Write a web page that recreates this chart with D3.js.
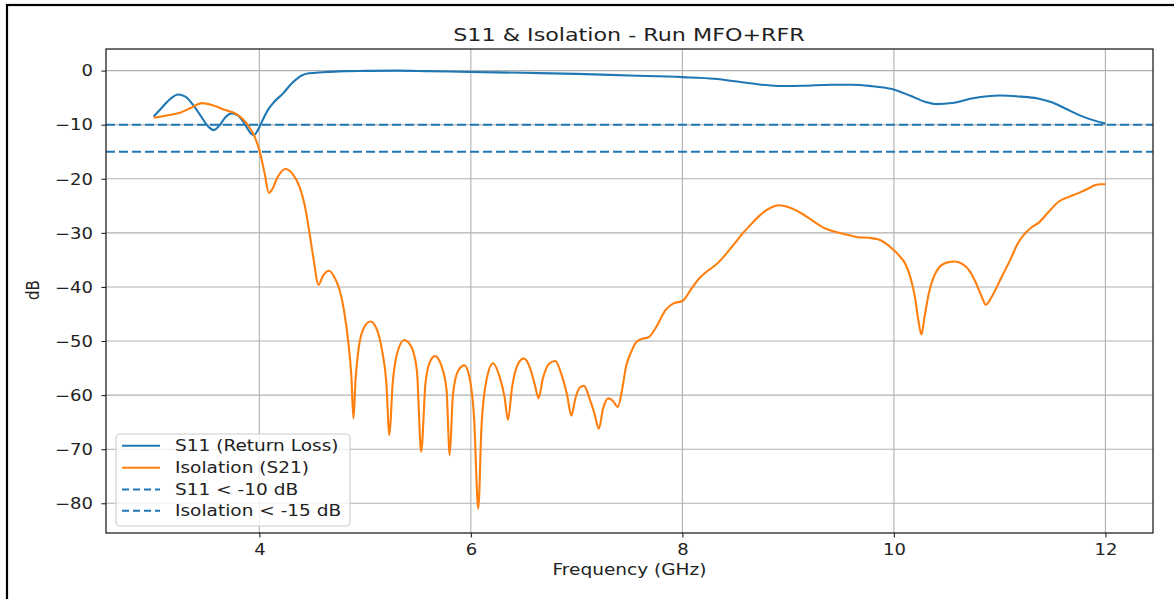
<!DOCTYPE html>
<html>
<head>
<meta charset="utf-8">
<script src="https://cdn.jsdelivr.net/npm/d3@7"></script>
<style>
  html, body { margin: 0; padding: 0; background: #fff; }
  svg { display: block; }
  text { font-family: "DejaVu Sans", sans-serif; fill: #222; }
</style>
</head>
<body>
<svg id="chart" width="1174" height="599"></svg>
<script>
// ---- data ----
const title = "S11 & Isolation - Run MFO+RFR";
const xLabel = "Frequency (GHz)";
const yLabel = "dB";
const xTicks = [4, 6, 8, 10, 12];
const yTicks = [0, -10, -20, -30, -40, -50, -60, -70, -80];
const seriesNames = ["S11 (Return Loss)", "Isolation (S21)", "S11 < -10 dB", "Isolation < -15 dB"];
const thresholds = [-10, -15];

const s11Freq = [3.00,3.08,3.16,3.23,3.30,3.38,3.45,3.52,3.57,3.62,3.68,3.74,3.80,3.86,3.92,3.95,3.98,4.03,4.08,4.13,4.22,4.31,4.40,4.47,4.60,4.80,5.00,5.30,5.60,6.00,6.50,7.00,7.50,8.00,8.30,8.55,8.75,8.95,9.15,9.40,9.60,9.80,9.98,10.15,10.30,10.40,10.55,10.75,11.00,11.20,11.35,11.50,11.62,11.80,12.00];
const s11Val = [-8.5,-6.8,-5.2,-4.4,-4.8,-6.5,-8.5,-10.4,-11.0,-10.2,-8.6,-7.9,-8.3,-9.8,-11.6,-11.9,-11.2,-9.2,-7.3,-6.0,-4.3,-2.3,-0.9,-0.5,-0.3,-0.1,-0.05,0,-0.1,-0.25,-0.4,-0.6,-0.9,-1.2,-1.5,-2.1,-2.6,-2.85,-2.8,-2.6,-2.6,-2.9,-3.4,-4.6,-5.8,-6.2,-6.0,-5.1,-4.6,-4.8,-5.1,-5.9,-7.0,-8.6,-9.8];

const isoFreq = [3.00,3.15,3.25,3.35,3.46,3.56,3.68,3.78,3.84,3.90,3.95,4.00,4.05,4.09,4.12,4.17,4.25,4.31,4.38,4.43,4.47,4.51,4.56,4.60,4.66,4.71,4.76,4.80,4.84,4.87,4.89,4.91,4.94,4.99,5.05,5.11,5.16,5.20,5.23,5.26,5.30,5.37,5.44,5.49,5.53,5.57,5.61,5.66,5.72,5.77,5.80,5.83,5.88,5.94,5.99,6.03,6.07,6.10,6.15,6.21,6.27,6.32,6.35,6.39,6.44,6.50,6.56,6.61,6.64,6.68,6.74,6.80,6.85,6.91,6.95,6.99,7.03,7.07,7.12,7.17,7.21,7.25,7.30,7.34,7.39,7.43,7.47,7.51,7.56,7.62,7.68,7.75,7.84,7.92,8.00,8.08,8.16,8.24,8.31,8.40,8.50,8.57,8.66,8.76,8.84,8.91,9.00,9.10,9.22,9.35,9.46,9.57,9.66,9.76,9.85,9.92,10.00,10.05,10.11,10.16,10.20,10.23,10.26,10.29,10.33,10.38,10.42,10.50,10.58,10.65,10.71,10.77,10.83,10.87,10.92,11.02,11.10,11.17,11.24,11.30,11.37,11.46,11.56,11.66,11.75,11.83,11.90,11.95,12.00];
const isoVal = [-8.7,-8.2,-7.8,-6.9,-6.0,-6.4,-7.3,-8.0,-8.9,-10.3,-12.0,-14.7,-19.0,-22.6,-22.0,-19.8,-18.2,-19.0,-21.5,-25,-29.5,-34.5,-39.6,-38.0,-37.0,-38.2,-40.6,-44.3,-50.0,-56.5,-64.3,-57,-51.2,-47.5,-46.4,-47.8,-51.7,-57.5,-67.4,-58,-52.5,-49.8,-51.2,-55.5,-70.5,-58,-54,-52.8,-54.5,-59,-71.1,-60,-55.5,-54.5,-57,-64,-81.0,-66,-57,-54.1,-56.5,-60.5,-64.6,-58.5,-54.5,-53.2,-55,-58.5,-60.6,-57,-54.2,-53.7,-55.8,-60,-63.8,-60.5,-58.6,-58.3,-60.5,-63.5,-66.2,-62.5,-60.6,-61,-62.2,-59,-54.5,-52.3,-50.3,-49.6,-49.3,-47.5,-44.3,-43.0,-42.6,-40.5,-38.4,-37.0,-36.0,-34.2,-31.8,-30.1,-28.2,-26.3,-25.3,-24.9,-25.2,-26.1,-27.6,-29.2,-29.9,-30.4,-30.8,-30.9,-31.2,-31.9,-33.2,-34.2,-35.8,-38.5,-42,-46,-48.8,-45.5,-41.2,-38,-36.6,-35.5,-35.3,-35.8,-36.9,-39,-41.8,-43.3,-42,-38.1,-35,-32,-30.1,-29,-28.1,-26.2,-24.2,-23.3,-22.6,-21.9,-21.2,-21.0,-21.0];

// ---- layout ----
const C0 = "#1f77b4", C1 = "#ff7f0e";
const SX = 1.2;  // horizontal text stretch of the reference (ticks)
const SXL = 1.235; // for title, labels and legend
const svg = d3.select("#chart");
const plot = {left: 106, right: 1153, top: 49, bottom: 533};

const x = d3.scaleLinear().domain([2.55, 12.45]).range([plot.left, plot.right]);
const y = d3.scaleLinear().domain([-85.5, 4]).range([plot.bottom, plot.top]);

// outer frame
svg.append("rect").attr("x", 7).attr("y", 5).attr("width", 1200).attr("height", 700)
  .attr("fill", "none").attr("stroke", "#000").attr("stroke-width", 2.2);

// grid
const grid = svg.append("g");
grid.selectAll("line.gx").data(xTicks).join("line")
  .attr("x1", d => x(d)).attr("x2", d => x(d)).attr("y1", plot.top).attr("y2", plot.bottom)
  .attr("stroke", "#b0b0b0").attr("stroke-width", 1.1);
grid.selectAll("line.gy").data(yTicks).join("line")
  .attr("y1", d => y(d)).attr("y2", d => y(d)).attr("x1", plot.left).attr("x2", plot.right)
  .attr("stroke", "#b0b0b0").attr("stroke-width", 1.1);

// clip
svg.append("clipPath").attr("id", "clip").append("rect")
  .attr("x", plot.left).attr("y", plot.top).attr("width", plot.right - plot.left).attr("height", plot.bottom - plot.top);

const g = svg.append("g").attr("clip-path", "url(#clip)");
const line = d3.line().x(d => x(d[0])).y(d => y(d[1])).curve(d3.curveMonotoneX);

g.append("path").datum(d3.zip(s11Freq, s11Val)).attr("d", line)
  .attr("fill", "none").attr("stroke", C0).attr("stroke-width", 2.1).attr("stroke-linejoin", "round");
g.append("path").datum(d3.zip(isoFreq, isoVal)).attr("d", line)
  .attr("fill", "none").attr("stroke", C1).attr("stroke-width", 2.1).attr("stroke-linejoin", "round");

g.selectAll("line.th").data(thresholds).join("line")
  .attr("x1", plot.left).attr("x2", plot.right).attr("y1", d => y(d)).attr("y2", d => y(d))
  .attr("stroke", C0).attr("stroke-width", 2.1).attr("stroke-dasharray", "9,4");

// axes
const xAxis = svg.append("g").attr("transform", `translate(0,${plot.bottom})`)
  .call(d3.axisBottom(x).tickValues(xTicks).tickSize(4.5).tickPadding(3).tickFormat(d3.format("d")));
const yAxis = svg.append("g").attr("transform", `translate(${plot.left},0)`)
  .call(d3.axisLeft(y).tickValues(yTicks).tickSize(4.5).tickPadding(3)
    .tickFormat(d => d < 0 ? "\u2212" + Math.abs(d) : String(d)));
[xAxis, yAxis].forEach(a => {
  a.select(".domain").remove();
  a.selectAll(".tick line").attr("stroke", "#222").attr("stroke-width", 1.1);
  a.selectAll(".tick text").attr("font-family", "DejaVu Sans").attr("font-size", 15).attr("fill", "#222");
});
xAxis.selectAll(".tick text").attr("y", 0).attr("dy", 0)
  .attr("transform", `translate(0,22) scale(${SX},1)`);
yAxis.selectAll(".tick text").attr("x", 0).attr("dy", "0.35em")
  .attr("transform", `translate(-13,0) scale(${SX},1)`);

// spines
svg.append("rect").attr("x", plot.left).attr("y", plot.top)
  .attr("width", plot.right - plot.left).attr("height", plot.bottom - plot.top)
  .attr("fill", "none").attr("stroke", "#222").attr("stroke-width", 1.3);

// title & labels
svg.append("text").attr("text-anchor", "middle").attr("font-size", 18)
  .attr("transform", `translate(629,41) scale(${SXL},1)`).text(title);
svg.append("text").attr("text-anchor", "middle").attr("font-size", 15)
  .attr("transform", `translate(629.5,575) scale(${SXL},1)`).text(xLabel);
svg.append("text").attr("text-anchor", "middle").attr("font-size", 15)
  .attr("transform", `translate(39,290) rotate(-90) scale(1,${SX})`).text(yLabel);

// legend
const leg = svg.append("g");
leg.append("rect").attr("x", 116).attr("y", 434).attr("width", 234).attr("height", 92)
  .attr("rx", 4).attr("fill", "#fff").attr("fill-opacity", 0.8)
  .attr("stroke", "#cccccc").attr("stroke-width", 1.1);
const legendStyles = [
  {color: C0, dash: null}, {color: C1, dash: null},
  {color: C0, dash: "7,4"}, {color: C0, dash: "7,4"}
];
const rowY = [445.7, 467.7, 489.5, 510.7];
seriesNames.forEach((name, i) => {
  leg.append("line").attr("x1", 122).attr("x2", 160).attr("y1", rowY[i]).attr("y2", rowY[i])
    .attr("stroke", legendStyles[i].color).attr("stroke-width", 2.1)
    .attr("stroke-dasharray", legendStyles[i].dash);
  leg.append("text").attr("font-size", 15)
    .attr("transform", `translate(175,${rowY[i] + 5.5}) scale(${SXL},1)`).text(name);
});
</script>
</body>
</html>
